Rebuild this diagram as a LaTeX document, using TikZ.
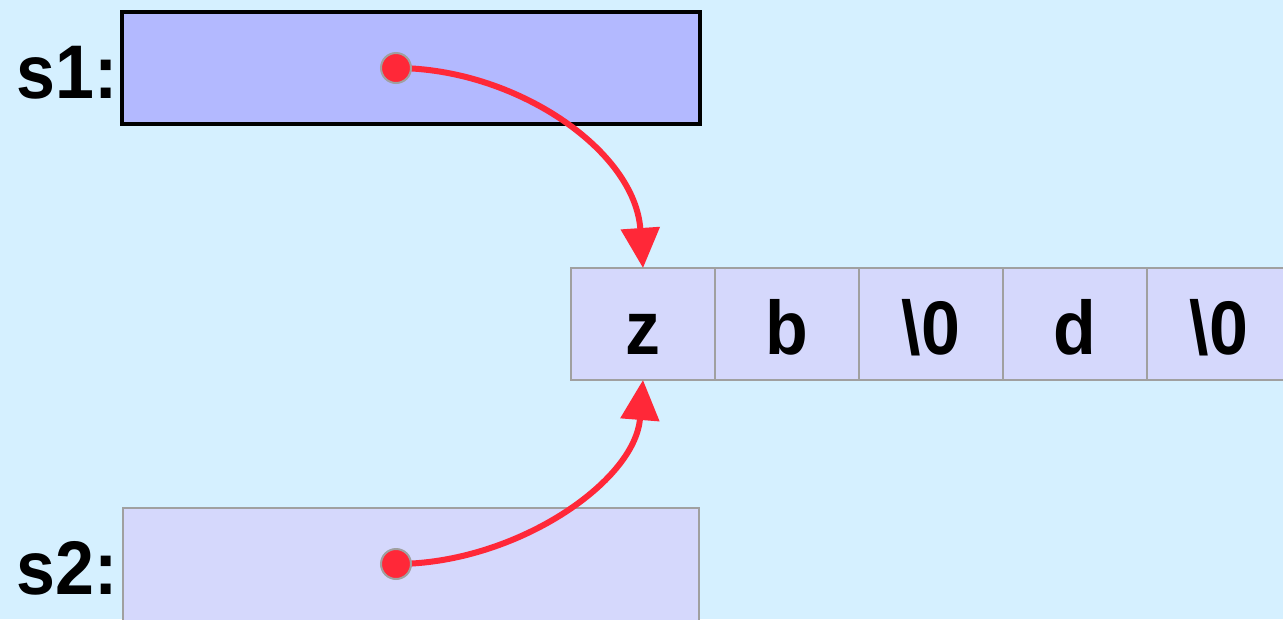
\documentclass[tikz,border=0pt]{standalone}
\usepackage{fontspec}
\setmainfont{Liberation Sans}
\usetikzlibrary{arrows.meta}
\definecolor{bg}{RGB}{213,240,255}
\definecolor{boxA}{RGB}{179,185,255}
\definecolor{boxB}{RGB}{213,216,252}
\definecolor{edge}{RGB}{160,160,160}
\definecolor{ptr}{RGB}{255,40,56}
\tikzset{
  cellbox/.style={draw=edge, line width=2pt, fill=boxB, minimum width=144pt, minimum height=112pt, inner sep=0pt, outer sep=0pt},
  celltext/.style={font=\fontsize{76}{80}\selectfont\bfseries, anchor=base, inner sep=0pt, xscale=0.92},
  dotmark/.style={circle, fill=ptr, draw=edge, line width=2pt, minimum size=30pt, inner sep=0pt},
  pointer/.style={draw=ptr, line width=6pt, -{Triangle[length=40pt,width=38pt]}}
}
\begin{document}
\begin{tikzpicture}[x=1pt,y=-1pt]
\fill[bg] (0,0) rectangle (1283,619);
\useasboundingbox (0,0) rectangle (1283,619);
% s1 box
\node[draw=black, line width=4pt, fill=boxA, minimum width=578pt, minimum height=112pt, inner sep=0pt] (s1box) at (411,68) {};
% s2 box
\node[draw=edge, line width=2pt, fill=boxB, minimum width=576pt, minimum height=130pt, inner sep=0pt] (s2box) at (411,573) {};
% labels
\node[celltext, anchor=base east] (s1lab) at (118,98) {s1:};
\node[celltext, anchor=base east] (s2lab) at (118,594) {s2:};
% cells
\node[cellbox] (c1) at (643,324) {};
\node[cellbox] (c2) at (787,324) {};
\node[cellbox] (c3) at (931,324) {};
\node[cellbox] (c4) at (1075,324) {};
\node[cellbox] (c5) at (1219,324) {};
\node[celltext] (t1) at (643,354) {z};
\node[celltext] (t2) at (787,354) {b};
\node[celltext] (t3) at (931,354) {\textbackslash 0};
\node[celltext] (t4) at (1075,354) {d};
\node[celltext] (t5) at (1219,354) {\textbackslash 0};
% pointers
\coordinate (tip1) at (643,268);
\coordinate (tip2) at (643,380);
\draw[pointer] (396,68) .. controls (515,68) and (635,150) .. (tip1);
\draw[pointer] (396,564) .. controls (515,564) and (635,482) .. (tip2);
\node[dotmark] (p1) at (396,68) {};
\node[dotmark] (p2) at (396,564) {};
\end{tikzpicture}
\end{document}
